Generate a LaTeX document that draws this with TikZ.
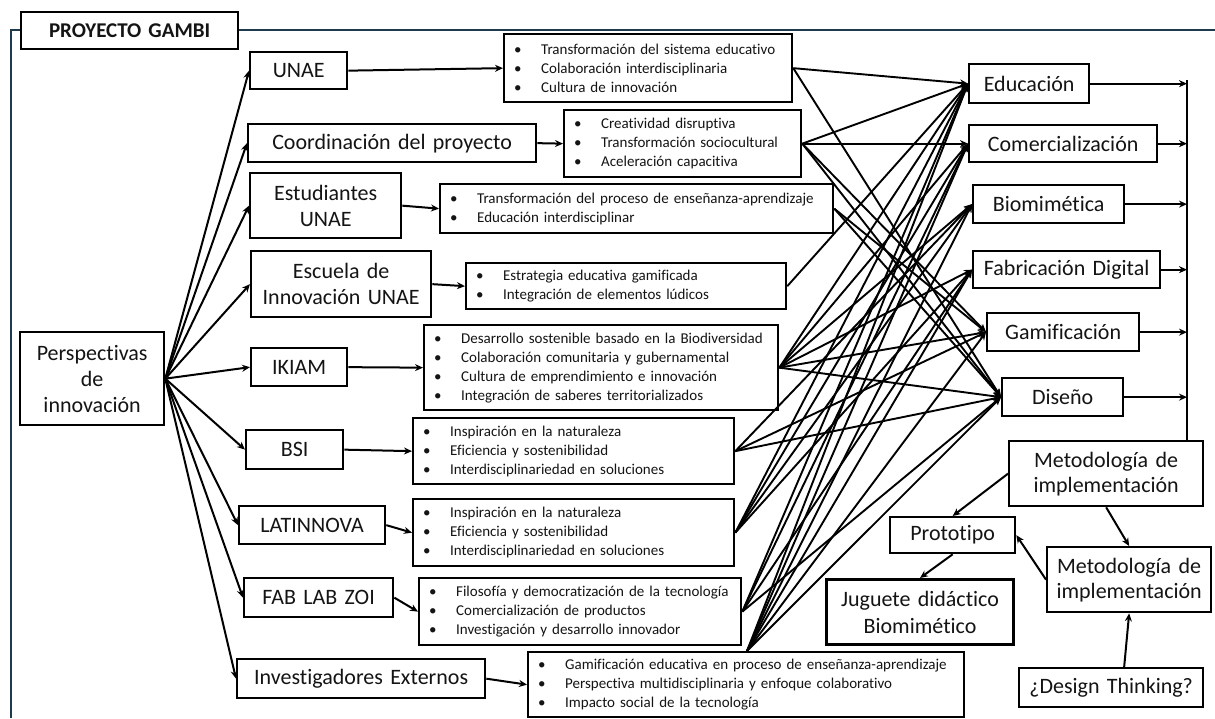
\documentclass[tikz,border=0pt]{standalone}
\usepackage{fontspec}
\setmainfont{Carlito}[Ligatures={NoCommon}]
\usetikzlibrary{arrows.meta}
\definecolor{framec}{HTML}{1F3A4C}
\definecolor{txt}{HTML}{141414}
\newcommand{\mybul}{\makebox[27pt][l]{•}}
\begin{document}
\begin{tikzpicture}[x=1pt,y=-1pt,
  mbox/.style={draw, line width=2.3pt, font=\fontsize{22}{26}\selectfont, text=txt, align=center, inner xsep=2pt, inner ysep=0pt, anchor=north west},
  bbox/.style={draw, line width=2.3pt, font=\fontsize{15}{19}\selectfont, text=txt, align=left, inner xsep=10pt, inner ysep=0pt, anchor=north west},
  arr/.style={line width=2pt, -{Stealth[length=8pt,width=7pt]}},
  ln/.style={line width=1.9pt, -{Stealth[length=8pt,width=7pt]}}
]
\useasboundingbox (0,0) rectangle (1215,718);
\fill[white] (0,0) rectangle (1215,718);
% frame
\draw[framec, line width=2.2pt] (11,718) -- (11,30) -- (1215,30);
\node[mbox, fill=white, font=\bfseries\fontsize{21}{24}\selectfont, minimum width=217pt, minimum height=37pt, text width=213pt] (title) at (20,11) {PROYECTO GAMBI};

% left column
\node[mbox, minimum width=144pt, minimum height=93pt, text width=140pt] (persp) at (19,331) {Perspectivas\\de\\innovación};
\node[mbox, minimum width=97pt, minimum height=37pt, text width=93pt] (unae) at (249,51) {UNAE};
\node[mbox, minimum width=288pt, minimum height=38pt, text width=284pt] (coord) at (247,123) {Coordinación del proyecto};
\node[mbox, minimum width=151pt, minimum height=65pt, text width=147pt] (estu) at (249,172) {Estudiantes\\UNAE};
\node[mbox, minimum width=180pt, minimum height=66pt, text width=176pt] (escu) at (250,250) {Escuela de\\Innovación UNAE};
\node[mbox, minimum width=96pt, minimum height=38pt, text width=92pt] (ikiam) at (250,347) {IKIAM};
\node[mbox, minimum width=97pt, minimum height=39pt, text width=93pt] (bsi) at (245,429) {BSI};
\node[mbox, minimum width=146pt, minimum height=38pt, text width=142pt] (latin) at (238,505) {LATINNOVA};
\node[mbox, minimum width=149pt, minimum height=39pt, text width=145pt] (fab) at (243,577) {FAB LAB ZOI};
\node[mbox, minimum width=248pt, minimum height=39pt, text width=244pt] (inv) at (236,658) {Investigadores Externos};

% bullet boxes
\node[bbox, minimum width=288pt, minimum height=68pt, text width=268pt] (b1) at (503,33) {\mybul Transformación del sistema educativo\\\mybul Colaboración interdisciplinaria\\\mybul Cultura de innovación};
\node[bbox, minimum width=237pt, minimum height=67pt, text width=217pt] (b2) at (563,109) {\mybul Creatividad disruptiva\\\mybul Transformación sociocultural\\\mybul Aceleración capacitiva};
\node[bbox, minimum width=393pt, minimum height=49pt, text width=373pt] (b3) at (439,183) {\mybul Transformación del proceso de enseñanza-aprendizaje\\\mybul Educación interdisciplinar};
\node[bbox, minimum width=320pt, minimum height=46pt, text width=300pt] (b4) at (465,262) {\mybul Estrategia educativa gamificada\\\mybul Integración de elementos lúdicos};
\node[bbox, minimum width=354pt, minimum height=85pt, text width=334pt] (b5) at (423,324) {\mybul Desarrollo sostenible basado en la Biodiversidad\\\mybul Colaboración comunitaria y gubernamental\\\mybul Cultura de emprendimiento e innovación\\\mybul Integración de saberes territorializados};
\node[bbox, minimum width=321pt, minimum height=66pt, text width=301pt] (b6) at (412,417) {\mybul Inspiración en la naturaleza\\\mybul Eficiencia y sostenibilidad\\\mybul Interdisciplinariedad en soluciones};
\node[bbox, minimum width=321pt, minimum height=67pt, text width=301pt] (b7) at (412,498) {\mybul Inspiración en la naturaleza\\\mybul Eficiencia y sostenibilidad\\\mybul Interdisciplinariedad en soluciones};
\node[bbox, minimum width=322pt, minimum height=67pt, text width=302pt] (b8) at (418,577) {\mybul Filosofía y democratización de la tecnología\\\mybul Comercialización de productos\\\mybul Investigación y desarrollo innovador};
\node[bbox, minimum width=436pt, minimum height=65pt, text width=416pt] (b9) at (527,651) {\mybul Gamificación educativa en proceso de enseñanza-aprendizaje\\\mybul Perspectiva multidisciplinaria y enfoque colaborativo\\\mybul Impacto social de la tecnología};
\coordinate (b9t) at (747,651);

% categories
\node[mbox, minimum width=120pt, minimum height=39pt, text width=116pt] (edu) at (968,63) {Educación};
\node[mbox, minimum width=188pt, minimum height=37pt, text width=184pt] (com) at (968,124) {Comercialización};
\node[mbox, minimum width=151pt, minimum height=38pt, text width=147pt] (bio) at (972,184) {Biomimética};
\node[mbox, minimum width=187pt, minimum height=37pt, text width=183pt] (fabd) at (972,250) {Fabricación Digital};
\node[mbox, minimum width=152pt, minimum height=38pt, text width=148pt] (gam) at (986,312) {Gamificación};
\node[mbox, minimum width=121pt, minimum height=38pt, text width=117pt] (dis) at (1001,377) {Diseño};

% bottom right
\node[mbox, minimum width=194pt, minimum height=65pt, text width=190pt, font=\fontsize{22}{25}\selectfont] (met1) at (1008,440) {Metodología de\\implementación};
\node[mbox, minimum width=125pt, minimum height=36pt, text width=121pt] (proto) at (889,516) {Prototipo};
\node[mbox, line width=3pt, minimum width=187pt, minimum height=65pt, text width=183pt, font=\fontsize{22}{27}\selectfont] (jug) at (825,578) {Juguete didáctico\\Biomimético};
\node[mbox, minimum width=164pt, minimum height=65pt, text width=160pt, font=\fontsize{22}{25}\selectfont] (met2) at (1046,546) {Metodología de\\implementación};
\node[mbox, minimum width=184pt, minimum height=39pt, text width=180pt] (des) at (1018,667) {¿Design Thinking?};

% left fan
\foreach \t in {unae,coord,estu,escu,ikiam,bsi,latin,fab,inv}
  \draw[arr] (persp.east) -- (\t.west);

% to bullet boxes
\draw[arr] (unae.east) -- (b1.west);
\draw[arr] (coord.east) -- (b2.west);
\draw[arr] (estu.east) -- (b3.west);
\draw[arr] (escu.east) -- (b4.west);
\draw[arr] (ikiam.east) -- (b5.west);
\draw[arr] (bsi.east) -- (b6.west);
\draw[arr] (latin.east) -- (b7.west);
\draw[arr] (fab.east) -- (b8.west);
\draw[arr] (inv.east) -- (b9.west);

% mesh
\foreach \s/\t in {b1/edu,b1/dis,b2/edu,b2/com,b2/gam,b2/dis,b3/gam,b3/dis,b4/edu,
  b5/edu,b5/com,b5/bio,b5/fabd,b5/gam,b5/dis,b6/bio,b6/gam,b6/dis,
  b7/edu,b7/com,b7/bio,b7/fabd,b8/edu,b8/com,b8/fabd,b8/dis}
  \draw[ln] (\s.east) -- (\t.west);
\foreach \t in {edu,com,bio,fabd,gam,dis}
  \draw[ln] (b9t) -- (\t.west);

% bus
\coordinate (bustop) at (1187,80);
\draw[line width=2pt] (bustop) -- (bustop |- met1.north);
\foreach \t in {edu,com,bio,fabd,gam,dis}
  \draw[arr] (\t.east) -- (\t.east -| bustop);

% bottom right arrows
\draw[arr] (met1.west) -- (proto.north);
\draw[arr] (met1.south) -- (met2.north);
\draw[arr] (met2.west) -- (proto.east);
\draw[arr] (proto.south) -- (jug.north);
\draw[arr] ([xshift=13pt]des.north) -- (met2.south);
\end{tikzpicture}
\end{document}
